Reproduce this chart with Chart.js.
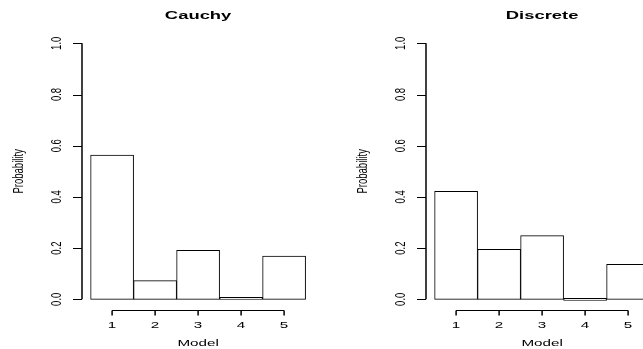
<!DOCTYPE html>
<html>
<head>
<meta charset="utf-8">
<script src="https://cdn.jsdelivr.net/npm/chart.js@4"></script>
<style>
  html, body { margin: 0; padding: 0; background: #fff; }
  body { width: 643px; height: 349px; overflow: hidden; position: relative; }
  canvas { position: absolute; top: 0; }
  #cauchyChart { left: 0; }
  #discreteChart { left: 344px; }
</style>
</head>
<body>
<canvas id="cauchyChart" width="330" height="349"></canvas>
<canvas id="discreteChart" width="330" height="349"></canvas>
<script>
// posterior model probabilities
const models = [1, 2, 3, 4, 5];
const cauchyProb = [0.563, 0.073, 0.191, 0.003, 0.169];
const discreteProb = [0.422, 0.195, 0.249, 0.0, 0.137];
const probTicks = [0, 0.2, 0.4, 0.6, 0.8, 1.0];
const probTickLabels = ["0.0", "0.2", "0.4", "0.6", "0.8", "1.0"];

const FONT = "'Liberation Sans', Arial, Helvetica, sans-serif";
const STRETCH = 1.6; // text is drawn wide, like the old device output

function drawText(ctx, text, x, y, rot, font) {
  ctx.save();
  ctx.translate(x, y);
  ctx.scale(STRETCH, 1);
  ctx.rotate(rot);
  ctx.font = font;
  ctx.fillStyle = "#000";
  ctx.textAlign = "center";
  ctx.textBaseline = "alphabetic";
  ctx.fillText(text, 0, 0);
  ctx.restore();
}

// R-style axes: lines only from first to last tick, ticks pointing out
function baseAxes(title) {
  return {
    id: "baseAxes",
    afterDraw(chart) {
      const ctx = chart.ctx;
      const xs = chart.scales.x, ys = chart.scales.y;
      const area = chart.chartArea;
      ctx.save();
      ctx.strokeStyle = "#000";

      // y axis
      const y0 = ys.getPixelForValue(probTicks[0]);
      const y1 = ys.getPixelForValue(probTicks[probTicks.length - 1]);
      ctx.lineWidth = 1.5;
      ctx.beginPath();
      ctx.moveTo(area.left, y0);
      ctx.lineTo(area.left, y1);
      ctx.stroke();
      ctx.lineWidth = 1;
      probTicks.forEach((v, i) => {
        const py = Math.round(ys.getPixelForValue(v)) + 0.5;
        ctx.beginPath();
        ctx.moveTo(area.left, py);
        ctx.lineTo(area.left - 9, py);
        ctx.stroke();
        drawText(ctx, probTickLabels[i], 60.5, ys.getPixelForValue(v), -Math.PI / 2, "9.5px " + FONT);
      });

      // x axis
      const by = Math.round(area.bottom) + 0.5;
      ctx.beginPath();
      ctx.moveTo(xs.getPixelForValue(models[0]), by);
      ctx.lineTo(xs.getPixelForValue(models[models.length - 1]), by);
      ctx.stroke();
      ctx.lineWidth = 1.5;
      models.forEach(m => {
        const px = xs.getPixelForValue(m);
        ctx.beginPath();
        ctx.moveTo(px, by);
        ctx.lineTo(px, by + 5);
        ctx.stroke();
        drawText(ctx, String(m), px, 328, 0, "9.5px " + FONT);
      });
      ctx.restore();

      const cx = (area.left + area.right) / 2;
      drawText(ctx, title, cx, 19, 0, "bold 11.5px " + FONT);
      drawText(ctx, "Model", cx, 345.5, 0, "9.5px " + FONT);
      drawText(ctx, "Probability", 23, (area.top + area.bottom) / 2, -Math.PI / 2, "9.5px " + FONT);
    }
  };
}

function makeChart(id, title, values) {
  new Chart(document.getElementById(id), {
    type: "bar",
    data: {
      datasets: [{
        data: models.map((m, i) => ({ x: m, y: values[i] })),
        backgroundColor: "#ffffff",
        borderColor: "#000000",
        borderWidth: { top: 1, bottom: 1, left: 1, right: 1 },
        borderSkipped: false,
        barPercentage: 1,
        categoryPercentage: 1,
        minBarLength: 2
      }]
    },
    options: {
      responsive: false,
      animation: false,
      layout: { padding: { left: 82, right: 15.8, top: 33.06, bottom: 39.46 } },
      plugins: { legend: { display: false }, tooltip: { enabled: false } },
      scales: {
        x: { type: "linear", min: 0.3, max: 5.7, offset: false, display: false },
        y: { min: -0.04, max: 1.04, display: false }
      }
    },
    plugins: [baseAxes(title)]
  });
}

makeChart("cauchyChart", "Cauchy", cauchyProb);
makeChart("discreteChart", "Discrete", discreteProb);
</script>
</body>
</html>
